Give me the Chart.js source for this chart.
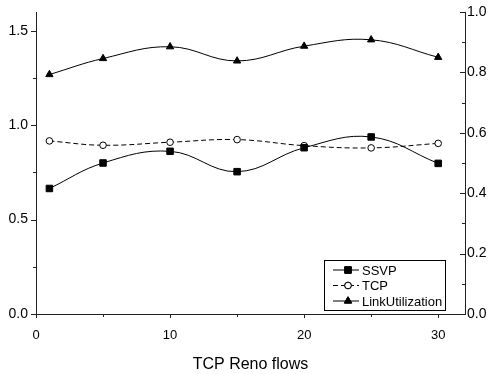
<!DOCTYPE html>
<html>
<head>
<meta charset="utf-8">
<script src="https://cdn.jsdelivr.net/npm/chart.js@4/dist/chart.umd.min.js"></script>
<style>
  html, body { margin: 0; padding: 0; background: #fff; }
  canvas { display: block; }
</style>
</head>
<body>
<canvas id="chart" width="489" height="374"></canvas>
<script>
// values
const flows = [1, 5, 10, 15, 20, 25, 30];
const ssvp = [0.665, 0.800, 0.862, 0.754, 0.881, 0.938, 0.798];
const tcp = [0.917, 0.894, 0.910, 0.924, 0.892, 0.880, 0.904];
const linkUtil = [0.793, 0.846, 0.885, 0.838, 0.887, 0.908, 0.850];

const xTicks = [0, 10, 20, 30];
const xMinor = [5, 15, 25];
const leftTicks = [0, 0.5, 1.0, 1.5];
const leftMinor = [0.25, 0.75, 1.25];
const rightTicks = [0, 0.2, 0.4, 0.6, 0.8, 1.0];
const rightMinor = [0.1, 0.3, 0.5, 0.7, 0.9];

const FONT = "'Liberation Sans', Arial, sans-serif";

function pts(ys){
  return flows.map((x, i) => ({x: x, y: ys[i]}));
}

// short tick marks, drawn by hand so the right axis can point inward
const tickMarks = {
  id: 'tickMarks',
  afterDraw(chart){
    const ctx = chart.ctx;
    const sx = chart.scales.x, sl = chart.scales.yL, sr = chart.scales.yR;
    const bottom = chart.chartArea.bottom;
    ctx.save();
    ctx.strokeStyle = '#222';
    ctx.lineWidth = 1;
    ctx.beginPath();
    xTicks.forEach(v => { let p = Math.round(sx.getPixelForValue(v)) + 0.5; ctx.moveTo(p, bottom); ctx.lineTo(p, bottom + 4); });
    xMinor.forEach(v => { let p = Math.round(sx.getPixelForValue(v)) + 0.5; ctx.moveTo(p, bottom); ctx.lineTo(p, bottom + 3); });
    let lx = chart.chartArea.left;
    leftTicks.forEach(v => { let p = Math.round(sl.getPixelForValue(v)) + 0.5; ctx.moveTo(lx, p); ctx.lineTo(lx - 5, p); });
    leftMinor.forEach(v => { let p = Math.round(sl.getPixelForValue(v)) + 0.5; ctx.moveTo(lx, p); ctx.lineTo(lx - 3, p); });
    let rx = chart.chartArea.right;
    rightTicks.forEach(v => { let p = Math.round(sr.getPixelForValue(v)) + 0.5; ctx.moveTo(rx, p); ctx.lineTo(rx - 5, p); });
    rightMinor.forEach(v => { let p = Math.round(sr.getPixelForValue(v)) + 0.5; ctx.moveTo(rx, p); ctx.lineTo(rx - 3, p); });
    ctx.stroke();
    ctx.restore();
  }
};

// boxed legend in the lower right corner of the plot
const boxLegend = {
  id: 'boxLegend',
  afterDraw(chart){
    const ctx = chart.ctx;
    const area = chart.chartArea;
    const w = 121, h = 50;
    const x0 = area.right - 20 - w, y0 = area.bottom - 4 - h;
    ctx.save();
    ctx.fillStyle = '#fff';
    ctx.fillRect(x0, y0, w, h);
    ctx.strokeStyle = '#000';
    ctx.lineWidth = 1;
    ctx.strokeRect(Math.round(x0) + 0.5, Math.round(y0) + 0.5, w, h);
    ctx.font = '13px ' + FONT;
    ctx.textBaseline = 'middle';
    chart.data.datasets.forEach((ds, i) => {
      let y = y0 + 10 + i * 15.5;
      ctx.strokeStyle = '#000';
      ctx.setLineDash(ds.borderDash || []);
      ctx.beginPath();
      ctx.moveTo(x0 + 9, y);
      ctx.lineTo(x0 + 35, y);
      ctx.stroke();
      ctx.setLineDash([]);
      Chart.helpers.drawPoint(ctx, {
        pointStyle: ds.pointStyle,
        radius: ds.pointRadius,
        borderWidth: 1
      }, x0 + 24, y);
      ctx.fillStyle = ds.pointBackgroundColor;
      ctx.strokeStyle = '#000';
      ctx.fill();
      ctx.stroke();
      ctx.fillStyle = '#000';
      ctx.fillText(ds.label, x0 + 38, y + 1);
    });
    ctx.restore();
  }
};

function fixWidth(w){
  return function(scale){
    scale.width = w;
    scale.paddingTop = 0;
    scale.paddingBottom = 0;
  };
}

new Chart(document.getElementById('chart'), {
  type: 'line',
  data: {
    datasets: [
      {
        label: 'SSVP', data: pts(ssvp), yAxisID: 'yL',
        borderColor: '#000', borderWidth: 1, tension: 0.4,
        pointStyle: 'rect', pointRadius: 4.6,
        pointBackgroundColor: '#000', pointBorderColor: '#000', pointBorderWidth: 1
      },
      {
        label: 'TCP', data: pts(tcp), yAxisID: 'yL',
        borderColor: '#000', borderWidth: 1, tension: 0.4, borderDash: [5, 3],
        pointStyle: 'circle', pointRadius: 3.3,
        pointBackgroundColor: '#fff', pointBorderColor: '#000', pointBorderWidth: 1
      },
      {
        label: 'LinkUtilization', data: pts(linkUtil), yAxisID: 'yR',
        borderColor: '#000', borderWidth: 1, tension: 0.4,
        pointStyle: 'triangle', pointRadius: 4.2,
        pointBackgroundColor: '#000', pointBorderColor: '#000', pointBorderWidth: 1
      }
    ]
  },
  options: {
    responsive: false,
    animation: false,
    layout: { padding: { top: 12, right: 0, left: 0, bottom: 0 } },
    plugins: { legend: { display: false }, tooltip: { enabled: false } },
    scales: {
      x: {
        type: 'linear', min: 0, max: 32,
        afterBuildTicks: s => { s.ticks = xTicks.map(v => ({value: v})); },
        afterFit: s => { s.height = 60; s.paddingLeft = 0; s.paddingRight = 0; },
        grid: { display: false, drawTicks: false },
        border: { display: true, color: '#222', width: 1 },
        ticks: { color: '#000', font: { family: FONT, size: 13 }, padding: 14, maxRotation: 0 },
        title: { display: true, text: 'TCP Reno flows', color: '#000', font: { family: FONT, size: 16 }, padding: { top: 12, bottom: 0 } }
      },
      yL: {
        type: 'linear', position: 'left', min: 0, max: 1.6,
        afterBuildTicks: s => { s.ticks = leftTicks.map(v => ({value: v})); },
        afterFit: fixWidth(36),
        grid: { display: false, drawTicks: false },
        border: { display: true, color: '#222', width: 1 },
        ticks: { color: '#000', font: { family: FONT, size: 14 }, padding: 8, callback: v => v.toFixed(1) }
      },
      yR: {
        type: 'linear', position: 'right', min: 0, max: 1.0,
        afterBuildTicks: s => { s.ticks = rightTicks.map(v => ({value: v})); },
        afterFit: fixWidth(24),
        grid: { display: false, drawTicks: false },
        border: { display: true, color: '#222', width: 1 },
        ticks: { color: '#000', font: { family: FONT, size: 14 }, padding: 2, callback: v => v.toFixed(1) }
      }
    }
  },
  plugins: [tickMarks, boxLegend]
});
</script>
</body>
</html>
